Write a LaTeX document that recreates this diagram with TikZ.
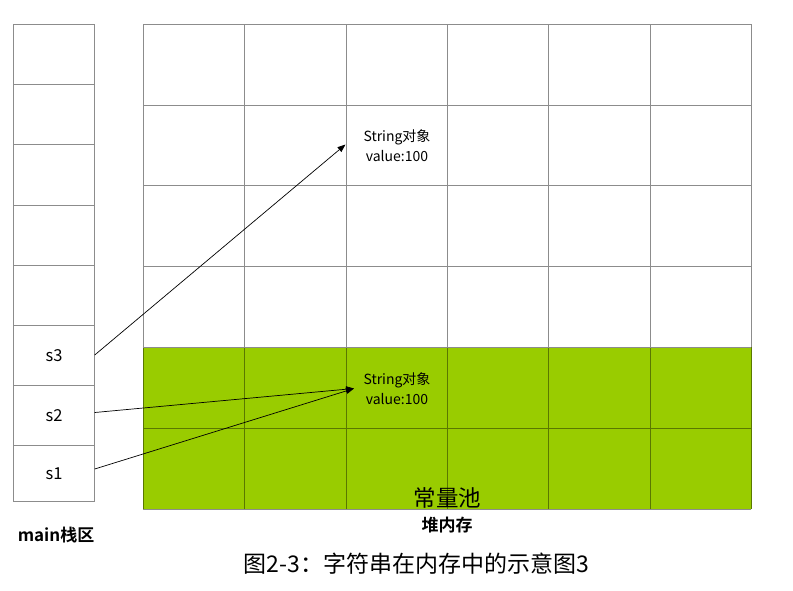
\documentclass[tikz,border=0pt]{standalone}
\usepackage{fontspec}
\setmainfont{Noto Sans CJK SC}[BoldFont={Noto Sans CJK SC Bold}]
\usetikzlibrary{arrows.meta}
\definecolor{poolgreen}{HTML}{99CC00}
\definecolor{gridgray}{HTML}{8C8C8C}
\definecolor{gridolive}{HTML}{5A7800}
\tikzset{
  cell/.style={draw=gridgray, line width=0.8pt, minimum width=81.4pt, minimum height=60.2pt, inner sep=0pt, outer sep=0pt, font=\fontsize{16.5}{19}\selectfont},
  objtext/.style={align=center, font=\fontsize{14}{20}\selectfont, inner sep=0pt},
  ptr/.style={-{Triangle[length=8pt,width=6pt]}, line width=0.7pt, black},
}
\begin{document}
\begin{tikzpicture}[x=1pt,y=-1pt]
\useasboundingbox (0,0) rectangle (793,590);
% heap grid
\fill[poolgreen] (143.3,347.3) rectangle (751.3,509.3);
\foreach \i in {0,...,6} {
  \draw[gridgray, line width=0.8pt] ({143.3+101.33*\i},24.3) -- ({143.3+101.33*\i},347.3);
  \draw[gridolive, line width=0.8pt] ({143.3+101.33*\i},347.3) -- ({143.3+101.33*\i},509.3);
}
\foreach \y in {24.3,105,185.5,266.3,347.3} {
  \draw[gridgray, line width=0.8pt] (143.3,\y) -- (751.3,\y);
}
\draw[gridolive, line width=0.8pt] (143.3,428.3) -- (751.3,428.3);
\draw[gridgray, line width=0.8pt] (143.3,509.3) -- (751.3,509.3);
% stack
\node[cell, anchor=north west] (c6) at (13.3,24.3) {};
\node[cell, anchor=north] (c5) at (c6.south) {};
\node[cell, anchor=north] (c4) at (c5.south) {};
\node[cell, anchor=north] (c3) at (c4.south) {};
\node[cell, anchor=north] (c2) at (c3.south) {};
\node[cell, anchor=north] (s3) at (c2.south) {s3};
\node[cell, anchor=north] (s2) at (s3.south) {s2};
\node[cell, anchor=north, minimum height=55.8pt] (s1) at (s2.south) {s1};
% objects
\node[objtext] (obj1) at (397,146) {String对象\\value:100};
\node[objtext] (obj2) at (397,388.5) {String对象\\value:100};
\coordinate (t1) at (345.5,144.5);
\coordinate (t2) at (354,388.5);
\coordinate (f3) at (94.7,355);
\coordinate (f2) at (94.7,412.5);
\coordinate (f1) at (94.7,469);
\draw[ptr] (f3) -- (t1);
\draw[ptr] (f2) -- (t2);
\draw[ptr] (f1) -- (t2);
% labels
\node[font=\fontsize{22.5}{26}\selectfont, inner sep=0pt] (pool) at (447.5,497.5) {常量池};
\node[font=\bfseries\fontsize{17}{20}\selectfont, inner sep=0pt] (heap) at (447,525) {堆内存};
\node[font=\bfseries\fontsize{17}{20}\selectfont, inner sep=0pt] (stack) at (56,535) {main栈区};
\node[font=\fontsize{23}{27}\selectfont, inner sep=0pt] (cap) at (416.5,563.5) {图2-3：字符串在内存中的示意图3};
\end{tikzpicture}
\end{document}
